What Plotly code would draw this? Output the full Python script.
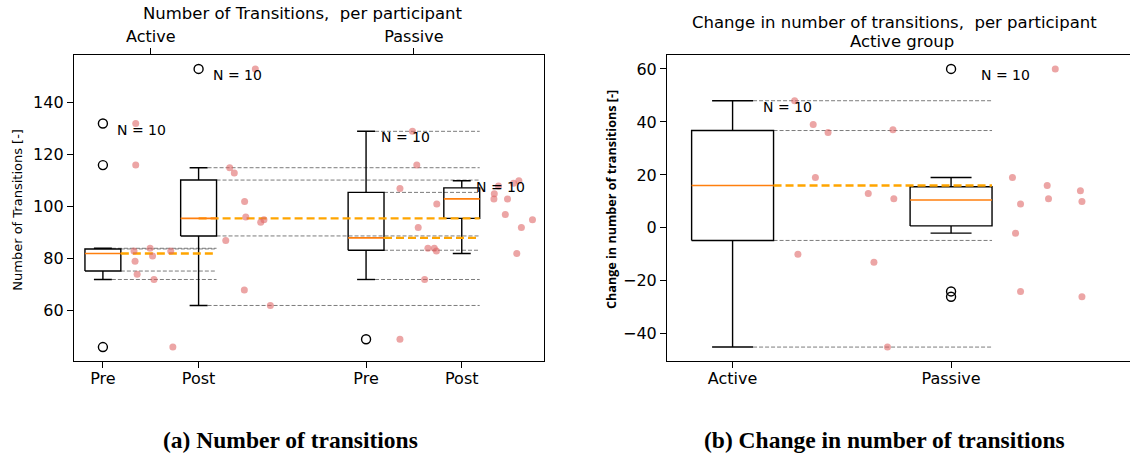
import numpy as np
import plotly.graph_objects as go

# ---------------- data ----------------
box_labels = ["Pre", "Post", "Pre", "Post"]
group_labels = ["Active", "Passive"]
box_positions = [1.0, 2.0, 3.75, 4.75]
change_positions = [1.0, 2.0]

active_pre = [132, 116, 83, 79, 74, 84, 81, 72, 83, 46]
active_pre_jitter = [0.343, 0.343, 0.325, 0.336, 0.358, 0.493, 0.519, 0.534, 0.709, 0.731]
active_post = [115, 113, 102, 96, 87, 94, 95, 68, 62, 153]
active_post_jitter = [0.325, 0.373, 0.481, 0.493, 0.284, 0.649, 0.683, 0.478, 0.750, 0.593]
passive_pre = [129, 116, 107, 92, 84, 84, 83, 101, 72, 49]
passive_pre_jitter = [0.485, 0.530, 0.354, 0.545, 0.646, 0.713, 0.735, 0.739, 0.612, 0.354]
passive_post = [105, 103, 103, 108, 109, 110, 97, 92, 95, 82]
passive_post_jitter = [0.340, 0.336, 0.478, 0.384, 0.541, 0.597, 0.455, 0.623, 0.739, 0.575]

active_change = [48, 39, 36, 19, 13, 37, 11, -10, -13, -45]
active_change_jitter = [0.284, 0.369, 0.437, 0.379, 0.621, 0.734, 0.738, 0.299, 0.647, 0.709]
passive_change = [60, 19, 16, 14, 9, 11, 10, -2, -24, -26]
passive_change_jitter = [0.477, 0.281, 0.440, 0.592, 0.318, 0.446, 0.599, 0.295, 0.318, 0.599]

left_title = "Number of Transitions,  per participant"
left_ylabel = "Number of Transitions [-]"
right_title_1 = "Change in number of transitions,  per participant"
right_title_2 = "Active group"
right_ylabel = "Change in number of transitions [-]"
caption_a = "(a) Number of transitions"
caption_b = "(b) Change in number of transitions"

# ---------------- style ----------------
BOX_W = 0.375
FONT = "DejaVu Sans"
PINK = "rgba(222,100,100,0.58)"
MED_C = "#ff7f0e"
DASH_C = "#ffa500"
GREY = "rgba(110,110,110,0.9)"


def stats(v):
    a = np.asarray(v, dtype=float)
    q1, med, q3 = np.percentile(a, [25, 50, 75])
    iqr = q3 - q1
    lo = a[a >= q1 - 1.5 * iqr].min()
    hi = a[a <= q3 + 1.5 * iqr].max()
    out = a[(a < lo) | (a > hi)]
    return dict(q1=q1, med=med, q3=q3, lo=lo, hi=hi, out=out, max=a.max(), n=len(a))


fig = go.Figure()


def add_lines(xs, ys, color, width, dash, xa, ya):
    fig.add_trace(go.Scatter(x=xs, y=ys, mode="lines",
                             line=dict(color=color, width=width, dash=dash),
                             xaxis=xa, yaxis=ya, showlegend=False, hoverinfo="skip"))


def add_boxes(datasets, positions, xa, ya):
    st = [stats(d) for d in datasets]
    for s, p in zip(st, positions):
        l, r = p - BOX_W / 2, p + BOX_W / 2
        cl, cr = p - BOX_W / 4, p + BOX_W / 4
        xs = [l, r, r, l, l, None,
              p, p, None, p, p, None,
              cl, cr, None, cl, cr]
        ys = [s["q1"], s["q1"], s["q3"], s["q3"], s["q1"], None,
              s["q3"], s["hi"], None, s["q1"], s["lo"], None,
              s["hi"], s["hi"], None, s["lo"], s["lo"]]
        add_lines(xs, ys, "black", 1.4, "solid", xa, ya)
    return st


def ref_lines(s, p, end, xa, ya):
    xs, ys = [], []
    for lvl, start in [(s["hi"], p + BOX_W / 4), (s["q3"], p + BOX_W / 2),
                       (s["q1"], p + BOX_W / 2), (s["lo"], p + BOX_W / 4)]:
        xs += [start, end, None]
        ys += [lvl, lvl, None]
    add_lines(xs, ys, GREY, 1, "4px,2px", xa, ya)


def finish_panel(datasets, jitters, positions, st, xa, ya):
    for d, j, p in zip(datasets, jitters, positions):
        fig.add_trace(go.Scatter(x=[p + o for o in j], y=d, mode="markers",
                                 marker=dict(color=PINK, size=7, line=dict(width=0)),
                                 xaxis=xa, yaxis=ya, showlegend=False, hoverinfo="skip"))
    for s, p in zip(st, positions):
        add_lines([p - BOX_W / 2, p + BOX_W / 2], [s["med"], s["med"]], MED_C, 1.6, "solid", xa, ya)
        if len(s["out"]):
            fig.add_trace(go.Scatter(x=[p] * len(s["out"]), y=list(s["out"]), mode="markers",
                                     marker=dict(symbol="circle-open", color="black", size=9,
                                                 line=dict(width=1.4, color="black")),
                                     xaxis=xa, yaxis=ya, showlegend=False, hoverinfo="skip"))
        fig.add_annotation(x=p + 0.13, y=s["max"], xref=xa, yref=ya, text=f"N = {s['n']}",
                           showarrow=False, xanchor="left", yanchor="top", yshift=4,
                           font=dict(family=FONT, size=14, color="black"))


# ---------------- left panel ----------------
left_data = [active_pre, active_post, passive_pre, passive_post]
left_jit = [active_pre_jitter, active_post_jitter, passive_pre_jitter, passive_post_jitter]
redge = [p + BOX_W / 2 for p in box_positions]
stL = [stats(d) for d in left_data]
ref_lines(stL[0], box_positions[0], redge[1], "x", "y")
ref_lines(stL[1], box_positions[1], redge[3], "x", "y")
ref_lines(stL[2], box_positions[2], redge[3], "x", "y")
add_boxes(left_data, box_positions, "x", "y")
add_lines([redge[0], redge[1]], [stL[0]["med"]] * 2, DASH_C, 2.4, "8px,4px", "x", "y")
add_lines([box_positions[1], redge[3]], [stL[1]["med"]] * 2, DASH_C, 2.4, "8px,4px", "x", "y")
add_lines([redge[2], redge[3]], [stL[2]["med"]] * 2, DASH_C, 2.4, "8px,4px", "x", "y")
finish_panel(left_data, left_jit, box_positions, stL, "x", "y")

group_pos = [(box_positions[0] + box_positions[1]) / 2, (box_positions[2] + box_positions[3]) / 2]
fig.add_trace(go.Scatter(x=group_pos, y=[stL[0]["med"]] * 2, mode="markers",
                         marker=dict(opacity=0), xaxis="x3", yaxis="y",
                         showlegend=False, hoverinfo="skip"))

# ---------------- right panel ----------------
right_data = [active_change, passive_change]
right_jit = [active_change_jitter, passive_change_jitter]
stR = [stats(d) for d in right_data]
ref_lines(stR[0], change_positions[0], change_positions[1] + BOX_W / 2, "x2", "y2")
add_boxes(right_data, change_positions, "x2", "y2")
add_lines([change_positions[0] + BOX_W / 2, change_positions[1] + BOX_W / 2],
          [stR[0]["med"]] * 2, DASH_C, 2.4, "8px,4px", "x2", "y2")
finish_panel(right_data, right_jit, change_positions, stR, "x2", "y2")


def yrange(datasets):
    allv = np.concatenate([np.asarray(d, float) for d in datasets])
    lo, hi = allv.min(), allv.max()
    m = 0.05 * (hi - lo)
    return [lo - m, hi + m]


ax_common = dict(showgrid=False, zeroline=False, showline=True, linecolor="black", linewidth=1.2,
                 ticks="outside", ticklen=6, tickwidth=1.2, tickcolor="black",
                 tickfont=dict(family=FONT, size=16, color="black"), automargin=False)

fig.update_layout(
    width=1130, height=457, margin=dict(l=0, r=0, t=0, b=0),
    paper_bgcolor="white", plot_bgcolor="white", showlegend=False,
    xaxis=dict(domain=[0.0654, 0.4813], range=[0.697, 5.608], anchor="y", mirror=True,
               tickvals=box_positions, ticktext=box_labels, ticklabelstandoff=-3, **ax_common),
    xaxis3=dict(overlaying="x", side="top", anchor="y", range=[0.697, 5.608],
                tickvals=group_pos, ticktext=group_labels,
                **{**ax_common, "showline": False}),
    yaxis=dict(domain=[0.2101, 0.8796], range=yrange(left_data), anchor="x", mirror=True,
               tickvals=[60, 80, 100, 120, 140], **ax_common),
    xaxis2=dict(domain=[0.5903, 1.0], range=[0.70, 2.819], anchor="y2", mirror=True,
                tickvals=change_positions, ticktext=group_labels, ticklabelstandoff=-3, **ax_common),
    yaxis2=dict(domain=[0.2101, 0.8796], range=yrange(right_data), anchor="x2",
                tickvals=[-40, -20, 0, 20, 40, 60], **ax_common),
)

txt = dict(showarrow=False, xref="paper", yref="paper")
fig.add_annotation(x=302.7 / 1130, y=1 - 14 / 457, text=left_title, xanchor="center", yanchor="middle",
                   font=dict(family=FONT, size=16.5, color="black"), **txt)
fig.add_annotation(x=894.8 / 1130, y=1 - 22.7 / 457, text=right_title_1, xanchor="center", yanchor="middle",
                   font=dict(family=FONT, size=16.5, color="black"), **txt)
fig.add_annotation(x=902.4 / 1130, y=1 - 41.7 / 457, text=right_title_2, xanchor="center", yanchor="middle",
                   font=dict(family=FONT, size=16.5, color="black"), **txt)
fig.add_annotation(x=18 / 1130, y=1 - 209.7 / 457, text=left_ylabel, textangle=-90,
                   xanchor="center", yanchor="middle", font=dict(family=FONT, size=13, color="black"), **txt)
fig.add_annotation(x=611 / 1130, y=1 - 200 / 457, text="<b>" + right_ylabel + "</b>", textangle=-90,
                   xanchor="center", yanchor="middle", font=dict(family="Open Sans", size=12.6, color="black"), **txt)
fig.add_annotation(x=290.5 / 1130, y=1 - 440 / 457, text="<b>" + caption_a + "</b>",
                   xanchor="center", yanchor="middle",
                   font=dict(family="Liberation Serif", size=23.5, color="black"), **txt)
fig.add_annotation(x=884 / 1130, y=1 - 440 / 457, text="<b>" + caption_b + "</b>",
                   xanchor="center", yanchor="middle",
                   font=dict(family="Liberation Serif", size=23.5, color="black"), **txt)

fig.write_html("out.html")
